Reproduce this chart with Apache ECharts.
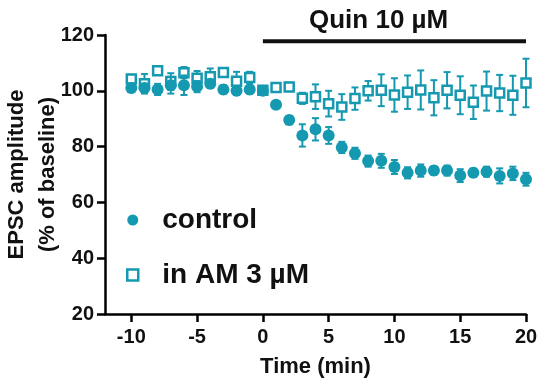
<!DOCTYPE html>
<html><head><meta charset="utf-8">
<script src="https://cdn.jsdelivr.net/npm/echarts@6/dist/echarts.min.js"></script>
<style>html,body{margin:0;padding:0;background:#fff}#c{width:539px;height:380px}</style>
</head><body><div id="c"></div>
<script>
const time = [-10,-9,-8,-7,-6,-5,-4,-3,-2,-1,0,1,2,3,4,5,6,7,8,9,10,11,12,13,14,15,16,17,18,19,20];
const control = [101,101,100.5,102,102,101.5,102.5,100.5,100,100.5,100,95,89.5,84,86.2,84,79.7,77.6,74.8,74.9,72.7,70.6,71.4,71.4,71.4,69.6,70.6,71,69.5,70.4,68.3];
const controlErr = [1.5,1.5,2,3,3.5,2,1.5,1.5,1.5,1.5,0,1.2,1.5,4,4,3,2,2,2,2.5,2.5,2,2.2,1.5,1.8,2.3,1.5,1.8,2.7,2.4,2.3];
const am = [104.2,102.5,107.2,103.3,106.5,104.5,105,106.6,103.4,104.8,100.2,101.2,101.4,97.3,97.9,95.4,94.2,97.2,100,100.2,98.5,99.5,100.3,97.5,100.2,98.4,95.9,99.9,99.2,98.4,102.8];
const amErr = [1.5,3.5,1.5,3,2,2.6,3,1.5,3.4,2,0,1.5,1.5,2,4.4,4.6,4.6,4,3.5,5.7,6,6,7,6.3,6.5,6.8,6,7,6.5,7,8.7];
const xTicks = [-10,-5,0,5,10,15,20];
const quinStart = 0, quinEnd = 20, quinLevel = 117.8;
const seriesNames = ['control','in AM 3 µM'];

const teal = '#1499b1';
const font = '"Liberation Sans", Arial, sans-serif';

function errData(vals, errs){ return time.map((t,i)=>[t, vals[i]-errs[i], vals[i]+errs[i]]); }
function errRender(params, api){
  const x = api.value(0), lo = api.value(1), hi = api.value(2);
  const pLo = api.coord([x, lo]), pHi = api.coord([x, hi]);
  const w = 3.5;
  const st = {stroke: teal, lineWidth: 2};
  return {type:'group', children:[
    {type:'line', shape:{x1:pLo[0],y1:pLo[1],x2:pHi[0],y2:pHi[1]}, style:st},
    {type:'line', shape:{x1:pLo[0]-w,y1:pLo[1],x2:pLo[0]+w,y2:pLo[1]}, style:st},
    {type:'line', shape:{x1:pHi[0]-w,y1:pHi[1],x2:pHi[0]+w,y2:pHi[1]}, style:st}
  ]};
}

const chart = echarts.init(document.getElementById('c'), null, {renderer:'canvas'});
chart.setOption({
  animation:false,
  textStyle:{fontFamily:font},
  grid:{left:105, right:13, top:35, bottom:66, containLabel:false, outerBoundsMode:'none'},
  xAxis:{type:'value', min:-12, max:20,
    axisLine:{onZero:false, lineStyle:{color:'#000', width:2.5}},
    axisTick:{show:true, length:8, lineStyle:{color:'#000', width:2.5}, customValues:xTicks},
    axisLabel:{color:'#111', fontSize:20, fontWeight:'bold', fontFamily:font, margin:13, customValues:xTicks},
    splitLine:{show:false},
    name:'Time (min)', nameLocation:'middle', nameGap:42, nameMoveOverlap:false,
    nameTextStyle:{color:'#111', fontSize:22, fontWeight:'bold', fontFamily:font}
  },
  yAxis:{type:'value', min:20, max:120, interval:20,
    axisLine:{show:true, onZero:false, lineStyle:{color:'#000', width:2.5}},
    axisTick:{show:true, length:8, lineStyle:{color:'#000', width:2.5}},
    axisLabel:{color:'#111', fontSize:20, fontWeight:'bold', fontFamily:font, margin:11},
    splitLine:{show:false},
    name:'EPSC amplitude\n(% of baseline)', nameLocation:'middle', nameGap:42, nameRotate:90, nameMoveOverlap:false,
    nameTextStyle:{color:'#111', fontSize:22, fontWeight:'bold', fontFamily:font, lineHeight:31}
  },
  legend:{orient:'vertical', left:121, top:200, itemWidth:11, itemHeight:11, itemGap:25,
    textStyle:{color:'#111', fontSize:28, fontWeight:'bold', fontFamily:font, lineHeight:30, padding:[0,0,0,19]},
    data:[
      {name:seriesNames[0], icon:'circle'},
      {name:seriesNames[1], icon:'rect', itemStyle:{color:'#fff', borderColor:teal, borderWidth:2.5}}
    ]
  },
  graphic:[{type:'text', left:309, top:8, style:{text:'Quin 10 µM', fill:'#111', font:'bold 26px "Liberation Sans", Arial, sans-serif'}}],
  series:[
    {type:'line', data:[[quinStart,quinLevel],[quinEnd,quinLevel]], showSymbol:false, symbol:'none',
      lineStyle:{color:'#111', width:4}, z:1, silent:true, legendHoverLink:false},
    {type:'custom', name:seriesNames[1]+'_err', renderItem:errRender, data:errData(am, amErr), z:2, encode:{x:0,y:[1,2]}},
    {type:'scatter', name:seriesNames[1], data:time.map((t,i)=>[t, am[i]]), symbol:'rect', symbolSize:9,
      itemStyle:{color:'#fff', borderColor:teal, borderWidth:2.5, opacity:1}, z:3},
    {type:'custom', name:seriesNames[0]+'_err', renderItem:errRender, data:errData(control, controlErr), z:4, encode:{x:0,y:[1,2]}},
    {type:'scatter', name:seriesNames[0], data:time.map((t,i)=>[t, control[i]]), symbol:'circle', symbolSize:12,
      itemStyle:{color:teal, opacity:1}, z:5}
  ]
});
</script></body></html>
